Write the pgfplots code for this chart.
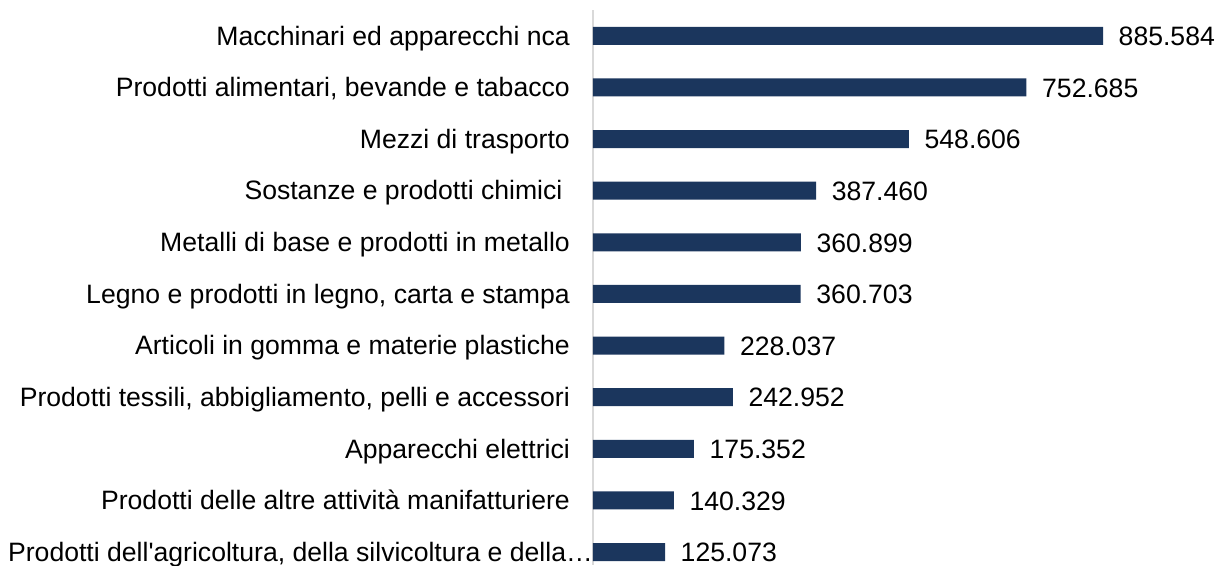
\documentclass[border=0pt]{standalone}
\usepackage{fontspec}
\setmainfont{Liberation Sans}
\usepackage{pgfplots}
\pgfplotsset{compat=1.18}
\definecolor{barblue}{HTML}{1B365D}
\definecolor{axgray}{HTML}{D9D9D9}
\begin{document}
\begin{tikzpicture}
\begin{axis}[
  scale only axis, width=624pt, height=555pt,
  xbar, bar width=18pt,
  xmin=0, xmax=1083.5,
  ymin=-0.5, ymax=10.25, y dir=reverse,
  axis x line=none, axis y line*=left,
  axis line style={draw=axgray, line width=1.5pt, -},
  ytick={0,...,10},
  yticklabels={
    Macchinari ed apparecchi nca,
    {Prodotti alimentari, bevande e tabacco},
    Mezzi di trasporto,
    Sostanze e prodotti chimici\kern7.4pt,
    Metalli di base e prodotti in metallo,
    {Legno e prodotti in legno, carta e stampa},
    Articoli in gomma e materie plastiche,
    {Prodotti tessili, abbigliamento, pelli e accessori},
    Apparecchi elettrici,
    Prodotti delle altre attività manifatturiere,
    {Prodotti dell\textquotesingle agricoltura, della silvicoltura e della…\kern-23pt}
  },
  ytick style={draw=none}, major tick length=0pt,
  yticklabel style={font=\fontsize{26.6}{32}\selectfont, inner sep=0pt, anchor=east, xshift=-23pt, yshift=-2.5pt, text height=19pt, text depth=5.6pt},
  clip=false,
  point meta=explicit symbolic,
  nodes near coords,
  nodes near coords style={font=\fontsize{26.6}{32}\selectfont, inner sep=0pt, anchor=west, xshift=15.5pt, yshift=-3pt, text height=19pt, text depth=5.6pt, black},
]
\addplot[fill=barblue, draw=none] coordinates {
  (885.584,0) [885.584]
  (752.685,1) [752.685]
  (548.606,2) [548.606]
  (387.460,3) [387.460]
  (360.899,4) [360.899]
  (360.703,5) [360.703]
  (228.037,6) [228.037]
  (242.952,7) [242.952]
  (175.352,8) [175.352]
  (140.329,9) [140.329]
  (125.073,10) [125.073]
};
\end{axis}
\pgfresetboundingbox
\path (current axis.south west) ++(-593pt,0pt) rectangle ++(1217pt,565pt);
\end{tikzpicture}
\end{document}
